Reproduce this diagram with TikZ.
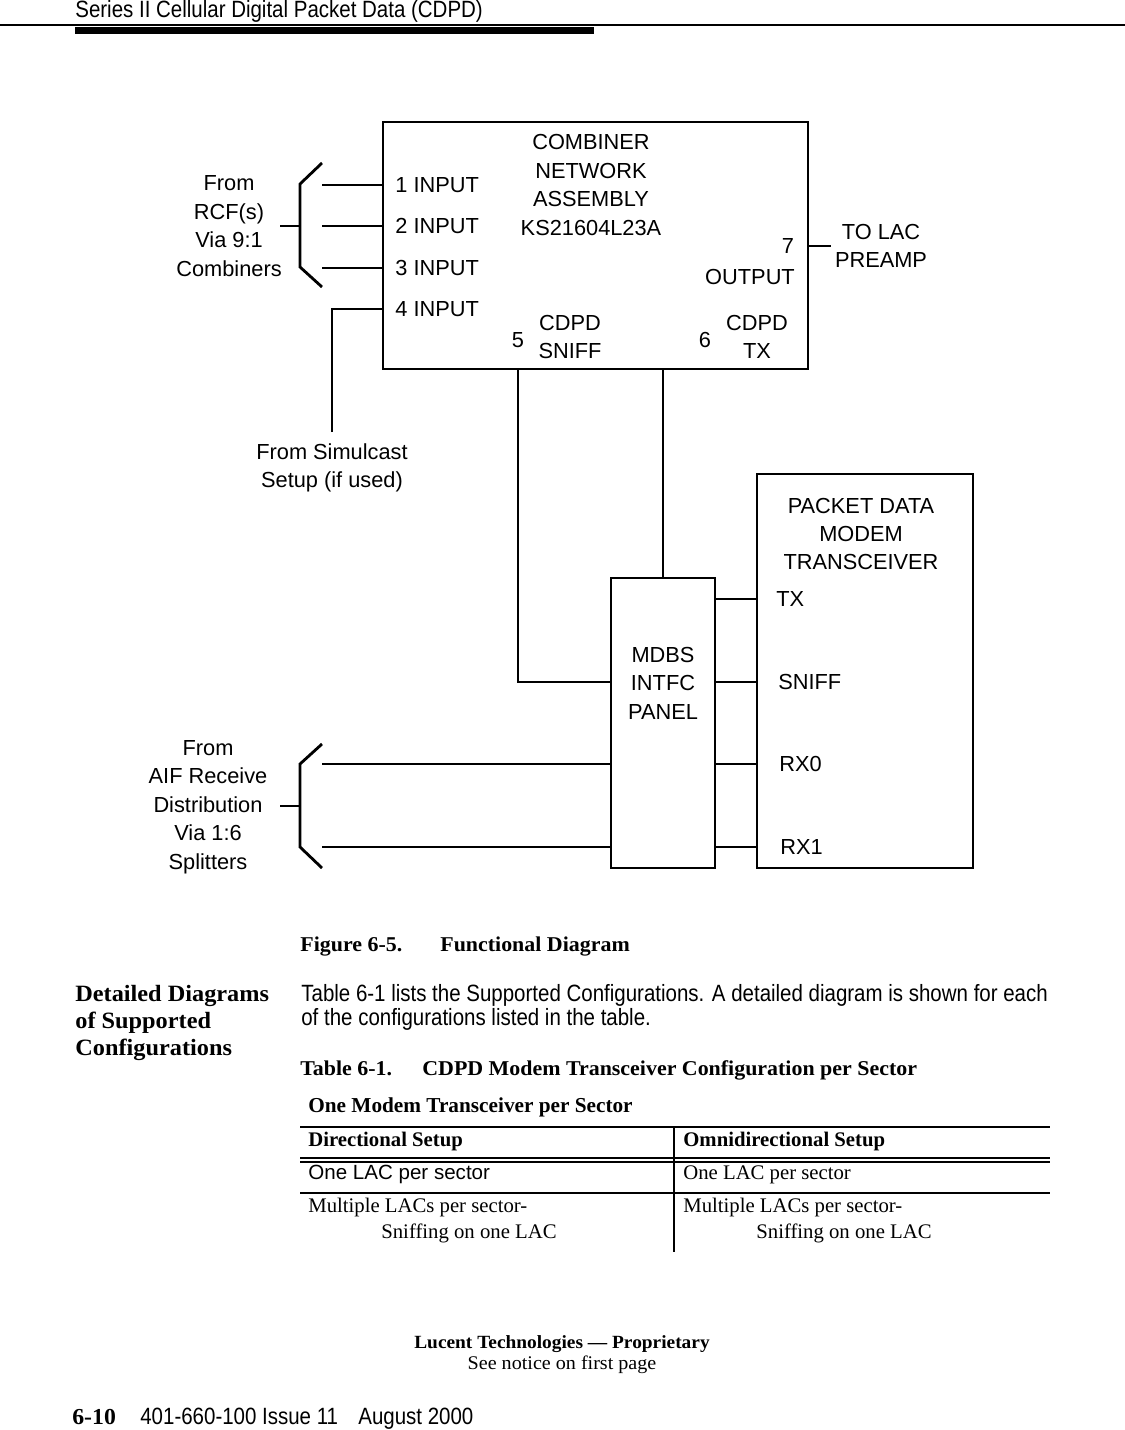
\documentclass[tikz,border=0pt]{standalone}
\usepackage{fontspec}
\setmainfont{Liberation Sans}
\newfontfamily\narrowsans[FakeStretch=0.87]{Liberation Sans}
\newfontfamily\capfont[FakeStretch=1.04]{Liberation Serif}
\newfontfamily\timesfont{Liberation Serif}

\begin{document}
\begin{tikzpicture}[x=0.02cm,y=-0.02cm,
  box/.style={draw,line width=1.6pt,inner sep=0pt},
  wire/.style={line width=1.6pt},
  lbl/.style={inner sep=0pt,align=center,font=\fontsize{12.4}{16.2}\selectfont},
  body/.style={inner sep=0pt,anchor=base west,font=\narrowsans\fontsize{13.4}{16}\selectfont},
  figcap/.style={inner sep=0pt,anchor=base west,font=\capfont\bfseries\fontsize{12}{14}\selectfont},
  side/.style={inner sep=0pt,anchor=base west,font=\capfont\bfseries\fontsize{13.3}{15}\selectfont},
  cell/.style={inner sep=0pt,anchor=base west,font=\timesfont\fontsize{11.8}{14}\selectfont},
  hrule/.style={line width=0.6pt}]
\useasboundingbox (0,0) rectangle (1125,1430);

\node[body] (head) at (75,17) {Series II Cellular Digital Packet Data (CDPD)};
\draw[hrule] (0,25) -- (1125,25);
\fill (75,27) rectangle (594,34);

\node[box,minimum width=8.5cm,minimum height=4.94cm] (cna) at (595.5,245.5) {};
\node[box,minimum width=2.08cm,minimum height=5.8cm] (mdbs) at (663,723) {};
\node[box,minimum width=4.32cm,minimum height=7.88cm] (pdmt) at (865,671) {};

\node[lbl] (cnatxt) at (591,185) {COMBINER\\NETWORK\\ASSEMBLY\\KS21604L23A};
\node[lbl,anchor=west] (in1) at (395,185) {1 INPUT};
\node[lbl,anchor=west] (in2) at (395,226) {2 INPUT};
\node[lbl,anchor=west] (in3) at (395,268) {3 INPUT};
\node[lbl,anchor=west] (in4) at (395,309) {4 INPUT};
\node[lbl] (p7) at (788,246) {7};
\node[lbl] (out) at (750,277) {OUTPUT};
\node[lbl] (lac) at (881,246) {TO LAC\\PREAMP};
\node[lbl] (p5) at (518,340) {5};
\node[lbl] (sniff5) at (570,337) {CDPD\\SNIFF};
\node[lbl] (p6) at (705,340) {6};
\node[lbl] (tx6) at (757,337) {CDPD\\TX};
\node[lbl] (rcftxt) at (229,226) {From\\RCF(s)\\Via 9:1\\Combiners};
\node[lbl] (simtxt) at (332,468) {From Simulcast\\Setup (if used)};
\node[lbl] (mdbstxt) at (663,683) {MDBS\\INTFC\\PANEL};
\node[lbl] (pdmttxt) at (861,534) {PACKET DATA\\MODEM\\TRANSCEIVER};
\node[lbl,anchor=west] (lTX) at (776,599) {TX};
\node[lbl,anchor=west] (lSNIFF) at (778,682) {SNIFF};
\node[lbl,anchor=west] (lRX0) at (779,764) {RX0};
\node[lbl,anchor=west] (lRX1) at (780,847) {RX1};
\node[lbl] (aiftxt) at (208,807) {From\\AIF Receive\\Distribution\\Via 1:6\\Splitters};

\coordinate (rcf) at (300,226);
\coordinate (rcfx) at (322,226);
\draw[wire] ([shift={(22,-63)}]rcf) -- ([shift={(0,-42)}]rcf) -- ([shift={(0,41)}]rcf) -- ([shift={(22,61)}]rcf);
\draw[wire] (rcf) -- ++(-20,0);
\foreach \n in {in1,in2,in3}
  \draw[wire] (rcfx |- \n.west) -- (cna.west |- \n.west);
\coordinate (sim) at (332,432);
\draw[wire] (sim) |- (cna.west |- in4.west);
\draw[wire] (cna.east |- p7) -- ++(22,0);

\draw[wire] (cna.south -| p5) |- (mdbs.west |- lSNIFF.west);
\draw[wire] (cna.south -| mdbs.north) -- (mdbs.north);
\foreach \n in {lTX,lSNIFF,lRX0,lRX1}
  \draw[wire] (mdbs.east |- \n.west) -- (pdmt.west |- \n.west);

\coordinate (aif) at (300,806);
\coordinate (aifx) at (322,806);
\draw[wire] ([shift={(22,-62)}]aif) -- ([shift={(0,-42)}]aif) -- ([shift={(0,41)}]aif) -- ([shift={(22,62)}]aif);
\draw[wire] (aif) -- ++(-20,0);
\foreach \n in {lRX0,lRX1}
  \draw[wire] (aifx |- \n.west) -- (mdbs.west |- \n.west);

\node[figcap] (figno) at (300,951) {Figure 6-5.};
\node[figcap] (figname) at (440,951) {Functional Diagram};
\node[side] (side1) at (75,1001) {Detailed Diagrams};
\node[side] (side2) at (75,1028) {of Supported};
\node[side] (side3) at (75,1055) {Configurations};
\node[body] (para1) at (301,1001) {Table 6-1 lists the Supported Configurations. A detailed diagram is shown for each};
\node[body] (para2) at (301,1025) {of the configurations listed in the table.};
\node[figcap] (tabno) at (300,1075) {Table 6-1.};
\node[figcap] (tabname) at (422,1075) {CDPD Modem Transceiver Configuration per Sector};

\node[cell,font=\timesfont\bfseries\fontsize{12.1}{14}\selectfont] (tabtitle) at (308,1112) {One Modem Transceiver per Sector};
\draw[hrule] (300,1127) -- (1050,1127);
\draw[hrule] (300,1158) -- (1050,1158);
\draw[hrule] (300,1162) -- (1050,1162);
\draw[hrule] (300,1193) -- (1050,1193);
\draw[line width=1pt] (674,1127) -- (674,1252);
\node[cell,font=\timesfont\bfseries\fontsize{11.8}{14}\selectfont] (hdir) at (308,1146) {Directional Setup};
\node[cell,font=\timesfont\bfseries\fontsize{11.8}{14}\selectfont] (homni) at (683,1146) {Omnidirectional Setup};
\node[cell,font=\fontsize{11.7}{14}\selectfont] (dir1) at (308,1179) {One LAC per sector};
\node[cell] (omni1) at (683,1179) {One LAC per sector};
\node[cell] (dir2) at (308,1212) {Multiple LACs per sector-};
\node[cell] (dir3) at (381,1238) {Sniffing on one LAC};
\node[cell] (omni2) at (683,1212) {Multiple LACs per sector-};
\node[cell] (omni3) at (756,1238) {Sniffing on one LAC};

\node[inner sep=0pt,anchor=base,font=\capfont\bfseries\fontsize{10.6}{12}\selectfont] (prop) at (562,1348) {Lucent Technologies — Proprietary};
\node[inner sep=0pt,anchor=base,font=\capfont\fontsize{11}{12}\selectfont] (notice) at (562,1369) {See notice on first page};
\node[figcap,font=\capfont\bfseries\fontsize{13}{14}\selectfont] (pageno) at (72,1424) {6-10};
\node[body] (issue) at (140,1424) {401-660-100 Issue 11};
\node[body] (date) at (358,1424) {August 2000};
\end{tikzpicture}
\end{document}
